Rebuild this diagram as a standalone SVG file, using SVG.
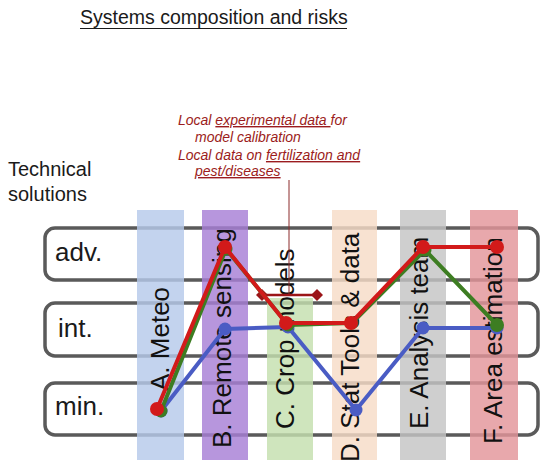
<svg xmlns="http://www.w3.org/2000/svg" width="541" height="470" viewBox="0 0 541 470">
<style>
  .t{font-family:"Liberation Sans",Arial,sans-serif;fill:#1a1a1a}
  .row{fill:#fff;stroke:#5a5a5a;stroke-width:3.5}
  .col{opacity:0.82}
  .coltxt{font-family:"Liberation Sans",Arial,sans-serif;font-size:26px;fill:#111}
  .ann{font-family:"Liberation Sans",Arial,sans-serif;font-size:14px;font-style:italic;fill:#9b1c20}
  .ln{fill:none;stroke-width:4;stroke-linejoin:round}
</style>
<defs>
  <marker id="dia" viewBox="-6 -6 12 12" markerWidth="12" markerHeight="12" markerUnits="userSpaceOnUse" orient="auto">
    <path d="M0,-6 L6,0 L0,6 L-6,0 Z" fill="#9b1518"/>
  </marker>
</defs>
<rect width="541" height="470" fill="#fff"/>
<g id="title">
  <text class="t" x="80" y="24" font-size="19.5">Systems composition and risks</text>
  <line x1="80" y1="28.5" x2="347" y2="28.5" stroke="#1a1a1a" stroke-width="1"/>
</g>
<g id="technical">
  <text class="t" x="8" y="176" font-size="20">Technical</text>
  <text class="t" x="8" y="201" font-size="20">solutions</text>
</g>
<g id="rows">
  <g id="row-adv"><rect class="row" x="45" y="228" width="493" height="52" rx="10"/><text class="t" x="55" y="261" font-size="26">adv.</text></g>
  <g id="row-int"><rect class="row" x="45" y="303" width="493" height="53" rx="10"/><text class="t" x="58" y="337" font-size="26">int.</text></g>
  <g id="row-min"><rect class="row" x="45" y="383" width="493" height="52" rx="10"/><text class="t" x="55" y="415" font-size="26">min.</text></g>
</g>
<g id="col-A"><rect class="col" x="137" y="210" width="47" height="250" fill="#b6c9ea"/><text class="coltxt" transform="translate(169,391) rotate(-90)">A. Meteo</text></g>
<g id="col-B"><rect class="col" x="202" y="210" width="46" height="250" fill="#a77fd6"/><text class="coltxt" transform="translate(231,448) rotate(-90)">B. Remote sensing</text></g>
<g id="col-C"><rect class="col" x="267" y="298" width="46" height="162" fill="#c5dfae"/><text class="coltxt" transform="translate(294,429) rotate(-90)">C. Crop models</text></g>
<g id="col-D"><rect class="col" x="332" y="210" width="45" height="250" fill="#f6dcc7"/><text class="coltxt" transform="translate(359,462) rotate(-90)">D. Stat Tools &amp; data</text></g>
<g id="col-E"><rect class="col" x="400" y="210" width="46" height="250" fill="#c4c4c4"/><text class="coltxt" transform="translate(428,429) rotate(-90)">E. Analysis team</text></g>
<g id="col-F"><rect class="col" x="470" y="210" width="48" height="250" fill="#e3959a"/><text class="coltxt" transform="translate(502,444) rotate(-90)">F. Area estimation</text></g>
<g id="annotation">
  <text class="ann" x="178" y="125">Local <tspan text-decoration="underline">experimental data </tspan>for</text>
  <text class="ann" x="195" y="142">model calibration</text>
  <text class="ann" x="178" y="160">Local data on <tspan text-decoration="underline">fertilization and</tspan></text>
  <text class="ann" x="195" y="176" text-decoration="underline">pest/diseases</text>
</g>
<g id="connectors">
  <line x1="289" y1="180" x2="289" y2="295" stroke="#8b2a2a" stroke-width="1"/>
  <line x1="262" y1="295" x2="317" y2="295" stroke="#9b1518" stroke-width="2.5" marker-start="url(#dia)" marker-end="url(#dia)"/>
  <polyline class="ln" stroke="#4a5cc4" points="161,411 225,329 288,327 356,410 423,328 497,328"/>
  <g fill="#4a5cc4"><circle cx="161" cy="411" r="6.5"/><circle cx="225" cy="329" r="6.5"/><circle cx="288" cy="327" r="6.5"/><circle cx="356" cy="410" r="6.5"/><circle cx="423" cy="328" r="6.5"/><circle cx="497" cy="328" r="6.5"/></g>
  <polyline class="ln" stroke="#3d7d22" points="161,411 226,249 288,325 352,323 425,250 497,325"/>
  <g fill="#3d7d22"><circle cx="161" cy="411" r="6.5"/><circle cx="226" cy="249" r="6.5"/><circle cx="288" cy="325" r="6.5"/><circle cx="352" cy="323" r="6.5"/><circle cx="425" cy="250" r="6.5"/><circle cx="497" cy="325" r="7"/></g>
  <polyline class="ln" stroke="#d21a1a" points="157,409 225,247 286,323 351,323 423,247 497,247"/>
  <g fill="#d21a1a"><circle cx="157" cy="409" r="7"/><circle cx="225" cy="247" r="7"/><circle cx="286" cy="323" r="7"/><circle cx="351" cy="323" r="7"/><circle cx="423" cy="247" r="7"/><circle cx="497" cy="247" r="7"/></g>
</g>
</svg>
